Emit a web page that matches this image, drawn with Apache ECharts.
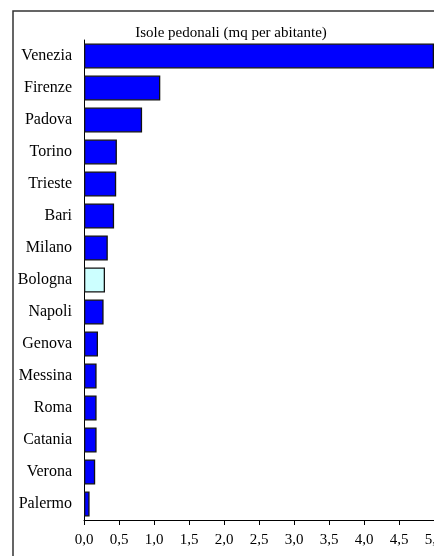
<!DOCTYPE html>
<html>
<head>
<meta charset="utf-8">
<script src="https://cdn.jsdelivr.net/npm/echarts@6/dist/echarts.min.js"></script>
<style>
  html, body { margin: 0; padding: 0; background: #fff; }
  #chart { width: 434px; height: 556px; }
</style>
</head>
<body>
<div id="chart"></div>
<script>
// città (dall'alto in basso) e valori in mq per abitante
const cities = ['Venezia', 'Firenze', 'Padova', 'Torino', 'Trieste', 'Bari', 'Milano',
  'Bologna', 'Napoli', 'Genova', 'Messina', 'Roma', 'Catania', 'Verona', 'Palermo'];
const values = [5.0, 1.09, 0.83, 0.47, 0.46, 0.43, 0.34, 0.30, 0.28, 0.20, 0.18, 0.18, 0.18, 0.16, 0.08];
const highlight = 'Bologna';

const chart = echarts.init(document.getElementById('chart'));

chart.setOption({
    backgroundColor: '#fff',
    animation: false,
    textStyle: { fontFamily: 'Liberation Serif' },
    title: {
        text: 'Isole pedonali (mq per abitante)',
        left: 226,
        textAlign: 'center',
        top: 21,
        textStyle: {
            color: '#000',
            fontWeight: 'normal',
            fontSize: 15,
            fontFamily: 'Liberation Serif'
        }
    },
    graphic: [{
        type: 'rect',
        shape: { x: 13, y: 11, width: 440, height: 570 },
        style: { fill: 'none', stroke: '#333', lineWidth: 1.5 },
        z: -1
    }],
    grid: { left: 84, top: 40, width: 350, height: 480, outerBoundsMode: 'none' },
    xAxis: {
        type: 'value',
        min: 0,
        max: 5,
        interval: 0.5,
        splitLine: { show: false },
        axisLine: { show: true, lineStyle: { color: '#000', width: 1 } },
        axisTick: { show: true, length: 5, lineStyle: { color: '#000' } },
        axisLabel: {
            color: '#000',
            fontSize: 15,
            margin: 13,
            showMaxLabel: true,
            hideOverlap: false,
            formatter: v => v.toFixed(1).replace('.', ',')
        }
    },
    yAxis: {
        type: 'category',
        inverse: true,
        data: cities,
        axisLine: { show: true, lineStyle: { color: '#000', width: 1 } },
        axisTick: { show: false },
        axisLabel: { color: '#000', fontSize: 16, margin: 12 }
    },
    series: [{
        type: 'bar',
        barCategoryGap: '22%',
        data: values.map((v, i) => ({
            value: v,
            itemStyle: { color: cities[i] === highlight ? '#ccffff' : '#0000ff' }
        })),
        itemStyle: { borderColor: '#111', borderWidth: 1.3 }
    }]
});
</script>
</body>
</html>
